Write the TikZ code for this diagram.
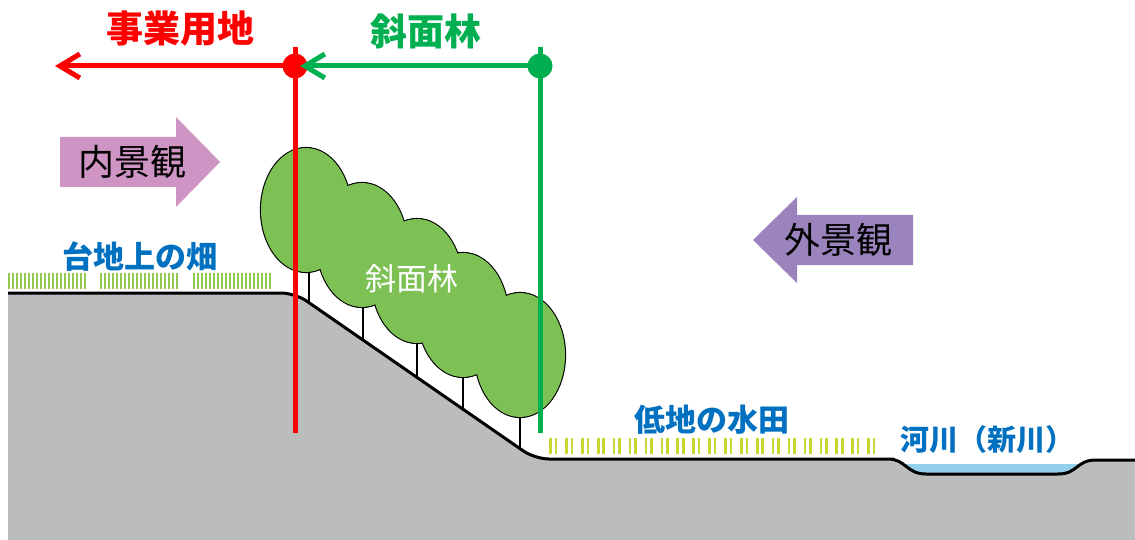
\documentclass[tikz,border=0pt]{standalone}
\usepackage{fontspec}
\setmainfont{Noto Sans CJK JP}
\usetikzlibrary{arrows.meta}

\definecolor{landred}{RGB}{255,0,0}
\definecolor{forestgreen}{RGB}{0,176,80}
\definecolor{labelblue}{RGB}{0,112,192}
\definecolor{groundgray}{RGB}{187,188,188}
\definecolor{treegreen}{RGB}{125,193,84}
\definecolor{innerpink}{RGB}{205,148,196}
\definecolor{outerpurple}{RGB}{155,132,190}
\definecolor{riverblue}{RGB}{146,208,235}
\definecolor{fieldgreen}{RGB}{146,200,80}
\definecolor{paddyyellow}{RGB}{200,214,50}

\tikzset{
  boundary/.style={line width=5pt},
  enddot/.style={circle, inner sep=0pt, minimum size=25pt},
  bigtag/.style={inner sep=0pt, font=\fontsize{37}{40}\selectfont\bfseries},
  placetag/.style={inner sep=0pt, text=labelblue, font=\fontsize{31}{34}\selectfont\bfseries},
  viewtag/.style={inner sep=0pt, font=\fontsize{36}{40}\selectfont},
  crown/.style={x radius=45pt, y radius=62pt},
  barb/.style={-{Straight Barb[length=20pt,width=24pt]}}
}

\begin{document}
\begin{tikzpicture}[x=1pt, y=-1pt]
    \fill[white] (0,0) rectangle (1135,540);
    \useasboundingbox (0,0) rectangle (1135,540);

    % ground and river
    \begin{scope}
        \clip (880,464) rectangle (1100,480);
        \fill[riverblue] (888,459) .. controls (906,459) and (906,474) .. (926,474) -- (1058,474)
            .. controls (1078,474) and (1076,460) .. (1096,460) -- cycle;
    \end{scope}
    \fill[groundgray] (8,293) [rounded corners=14pt] -- (295,293) -- (535,459) -- (880,459)
        [sharp corners] -- (888,459) .. controls (906,459) and (906,474) .. (926,474) -- (1058,474)
        .. controls (1078,474) and (1076,460) .. (1096,460) -- (1135,460)
        -- (1135,540) -- (8,540) -- cycle;
    \draw[line width=3pt] (8,293) [rounded corners=14pt] -- (295,293) -- (535,459) -- (880,459)
        [sharp corners] -- (888,459) .. controls (906,459) and (906,474) .. (926,474) -- (1058,474)
        .. controls (1078,474) and (1076,460) .. (1096,460) -- (1135,460);

    % fields
    \foreach \p in {8,100,193}
        \foreach \i in {0,...,19}
            \draw[fieldgreen, line width=2pt] (\p+1+4*\i,273) -- (\p+1+4*\i,289);
    \foreach \i in {0,...,20} {
        \draw[paddyyellow, line width=2.6pt] (550.5+15.9*\i,438) -- (550.5+15.9*\i,454);
        \draw[paddyyellow, line width=2.6pt] (556+15.9*\i,438) -- (556+15.9*\i,454);
    }

    % slope forest
    \foreach \x/\y in {309/272, 363/307, 417/343, 463/377, 520/417}
        \draw[line width=1.6pt] (\x,\y) -- (\x,{293+(\x-295)*0.6917});
    \foreach \x/\y in {306/210, 362/245, 417/281, 463/315, 520/355}
        \draw[line width=2.2pt] (\x,\y) ellipse[crown];
    \foreach \x/\y in {306/210, 362/245, 417/281, 463/315, 520/355}
        \fill[treegreen] (\x,\y) ellipse[crown];
    \node[inner sep=0pt, text=white, font=\fontsize{31}{34}\selectfont] (foresttext) at (412,279) {斜面林};

    % views
    \fill[innerpink] (60,137) -- (176,137) -- (176,117) -- (220,162) -- (176,207) -- (176,187) -- (60,187) -- cycle;
    \node[viewtag] (innerview) at (132,162) {内景観};
    \fill[outerpurple] (913,215) -- (797,215) -- (797,197) -- (753,240) -- (797,283) -- (797,265) -- (913,265) -- cycle;
    \node[viewtag] (outerview) at (838,240) {外景観};

    \node[placetag] (upfield) at (140,257) {台地上の畑};
    \node[placetag] (paddy) at (712,420) {低地の水田};
    \node[placetag, font=\fontsize{29}{32}\selectfont\bfseries] (river) at (987,440) {河川（新川）};

    % boundaries
    \node[bigtag, text=landred] (usetag) at (180,29) {事業用地};
    \node[bigtag, text=forestgreen] (foresttag) at (426,31) {斜面林};

    \coordinate (bdrytop) at (295,47);
    \coordinate (bdrybot) at (295,433);
    \coordinate (edgetop) at (540,47);
    \coordinate (edgebot) at (540,433);
    \coordinate (redtip) at (55,66);
    \coordinate (greentip) at (300,66);

    \draw[boundary, landred] (bdrytop) -- (bdrybot);
    \draw[boundary, forestgreen] (edgetop) -- (edgebot);
    \node[enddot, fill=landred] (bdry) at (295,66) {};
    \draw[boundary, landred, barb] (bdry.center) -- (redtip);
    \node[enddot, fill=forestgreen] (forestedge) at (540,66) {};
    \draw[boundary, forestgreen, barb] (forestedge.center) -- (greentip);
\end{tikzpicture}
\end{document}
